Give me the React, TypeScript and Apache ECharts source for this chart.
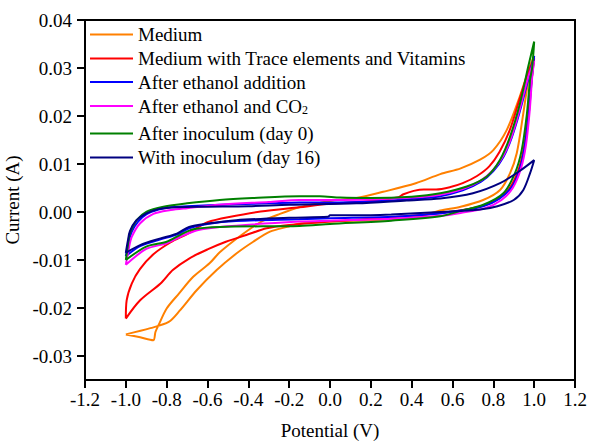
import React, { useEffect, useRef } from "react";
import * as echarts from "echarts";

const seriesNames = [
  "Medium",
  "Medium with Trace elements and Vitamins",
  "After ethanol addition",
  "After ethanol and CO2",
  "After inoculum (day 0)",
  "With inoculum (day 16)",
];
const seriesColors = ["#FF8000", "#FF0000", "#0000FF", "#FF00FF", "#008000", "#000080"];
const xTicks = [-1.2, -1.0, -0.8, -0.6, -0.4, -0.2, 0.0, 0.2, 0.4, 0.6, 0.8, 1.0, 1.2];
const yTicks = [-0.03, -0.02, -0.01, 0.0, 0.01, 0.02, 0.03, 0.04];

// [potential (V), current (A)]
const medium: number[][] = [
  [-1.0, -0.0255], [-0.93, -0.0261], [-0.866, -0.0267], [-0.855, -0.025], [-0.84, -0.0236],
  [-0.8, -0.0201], [-0.74, -0.017], [-0.67, -0.0135], [-0.59, -0.0107], [-0.54, -0.0084],
  [-0.44, -0.005], [-0.34, -0.0021], [-0.245, -0.0004], [-0.15, 0.001], [-0.05, 0.0019],
  [0.0, 0.0023], [0.13, 0.0029], [0.26, 0.0042], [0.42, 0.006], [0.54, 0.0079],
  [0.64, 0.0091], [0.735, 0.0109], [0.8, 0.0129], [0.866, 0.0171], [0.93, 0.0241],
  [0.98, 0.0305], [1.0, 0.0325],
  [0.98, 0.0297], [0.947, 0.0206], [0.915, 0.0123], [0.882, 0.0081], [0.833, 0.0046],
  [0.75, 0.0025], [0.64, 0.0011], [0.54, 0.0003], [0.41, -0.0012], [0.2, -0.0017],
  [0.0, -0.002], [-0.147, -0.0024], [-0.21, -0.0031], [-0.294, -0.0041], [-0.376, -0.0062],
  [-0.457, -0.0086], [-0.555, -0.0121], [-0.653, -0.0163], [-0.735, -0.0205], [-0.79, -0.0229],
  [-0.88, -0.0242], [-1.0, -0.0255],
];
const traceVitamins: number[][] = [
  [-1.0, -0.0222], [-0.996, -0.0184], [-0.971, -0.0149], [-0.931, -0.0119], [-0.865, -0.0088],
  [-0.78, -0.0063], [-0.7, -0.0046], [-0.64, -0.003], [-0.6, -0.0021], [-0.5, -0.0011],
  [-0.34, 0.0001], [-0.15, 0.001], [0.0, 0.0017], [0.2, 0.0023], [0.33, 0.003],
  [0.36, 0.0037], [0.41, 0.0044], [0.46, 0.0047], [0.52, 0.0047], [0.59, 0.0052],
  [0.65, 0.006], [0.72, 0.0075], [0.78, 0.0095], [0.83, 0.0125], [0.88, 0.017],
  [0.93, 0.0237], [0.97, 0.029], [1.0, 0.032],
  [0.985, 0.0265], [0.97, 0.02], [0.95, 0.0135], [0.925, 0.009], [0.88, 0.005],
  [0.82, 0.0026], [0.74, 0.0012], [0.6, 0.0001], [0.4, -0.0008], [0.2, -0.0014],
  [0.0, -0.002], [-0.2, -0.0027], [-0.31, -0.0034], [-0.41, -0.0048], [-0.51, -0.0062],
  [-0.6, -0.0078], [-0.69, -0.0097], [-0.77, -0.0121], [-0.83, -0.0149], [-0.93, -0.0184],
  [-1.0, -0.0222],
];
const ethanolAddition: number[][] = [
  [-1.0, -0.0092], [-0.985, -0.006], [-0.97, -0.004], [-0.94, -0.002], [-0.9, -0.0005],
  [-0.84, 0.0005], [-0.78, 0.001], [-0.7, 0.0012], [-0.54, 0.0015], [-0.3, 0.0018],
  [-0.15, 0.002], [0.0, 0.002], [0.2, 0.0022], [0.4, 0.0027], [0.54, 0.0033],
  [0.65, 0.0045], [0.74, 0.0063], [0.8, 0.0085], [0.85, 0.0115], [0.89, 0.0155],
  [0.93, 0.021], [0.97, 0.0275], [1.0, 0.0325],
  [0.99, 0.0285], [0.975, 0.021], [0.955, 0.014], [0.93, 0.009], [0.89, 0.0052],
  [0.83, 0.0028], [0.75, 0.0012], [0.64, 0.0003], [0.54, -0.0003], [0.3, -0.001],
  [0.0, -0.0013], [-0.15, -0.0015], [-0.46, -0.0019], [-0.6, -0.0025], [-0.69, -0.0034],
  [-0.75, -0.0047], [-0.83, -0.0057], [-0.93, -0.0071], [-1.0, -0.0092],
];
const ethanolCO2: number[][] = [
  [-1.0, -0.011], [-0.985, -0.0075], [-0.971, -0.0052], [-0.931, -0.0024], [-0.865, -0.0004],
  [-0.78, 0.0004], [-0.7, 0.0008], [-0.54, 0.0015], [-0.3, 0.0021], [-0.15, 0.0025],
  [0.0, 0.0025], [0.2, 0.0026], [0.4, 0.003], [0.54, 0.0036], [0.65, 0.0048],
  [0.74, 0.0066], [0.8, 0.0088], [0.85, 0.0118], [0.89, 0.0158], [0.93, 0.0215],
  [0.97, 0.028], [1.0, 0.0315],
  [0.99, 0.028], [0.978, 0.021], [0.96, 0.014], [0.935, 0.009], [0.895, 0.005],
  [0.84, 0.0025], [0.76, 0.0008], [0.64, -0.0002], [0.54, -0.0008], [0.3, -0.0014],
  [0.0, -0.0018], [-0.15, -0.002], [-0.54, -0.0031], [-0.65, -0.0038], [-0.735, -0.0052],
  [-0.8, -0.0065], [-0.9, -0.0077], [-1.0, -0.011],
];
const inoculumDay0: number[][] = [
  [-1.0, -0.01], [-0.99, -0.007], [-0.98, -0.0044], [-0.947, -0.0017], [-0.898, 0.0001],
  [-0.816, 0.0011], [-0.7, 0.0018], [-0.54, 0.0025], [-0.38, 0.0029], [-0.15, 0.0033],
  [-0.05, 0.0033], [0.05, 0.003], [0.2, 0.0029], [0.4, 0.0032], [0.54, 0.0039],
  [0.67, 0.0053], [0.768, 0.0074], [0.833, 0.0109], [0.882, 0.0157], [0.931, 0.0227],
  [0.971, 0.0303], [1.0, 0.0355],
  [0.99, 0.03], [0.98, 0.0276], [0.963, 0.0199], [0.939, 0.0129], [0.906, 0.0081],
  [0.849, 0.0039], [0.751, 0.0015], [0.637, 0.0002], [0.54, -0.0009], [0.3, -0.0018],
  [0.0, -0.0025], [-0.15, -0.0029], [-0.54, -0.0031], [-0.67, -0.0036], [-0.735, -0.0048],
  [-0.8, -0.0062], [-0.9, -0.0072], [-1.0, -0.01],
];
const inoculumDay16: number[][] = [
  [-1.0, -0.0085], [-0.99, -0.006], [-0.98, -0.004], [-0.95, -0.0018], [-0.9, -0.0003],
  [-0.84, 0.0006], [-0.75, 0.001], [-0.6, 0.0011], [-0.4, 0.0012], [-0.2, 0.0015],
  [0.13, 0.0018], [0.376, 0.0024], [0.54, 0.0028], [0.7, 0.0039], [0.833, 0.006],
  [0.931, 0.0086], [1.0, 0.0108],
  [0.98, 0.0081], [0.947, 0.0046], [0.9, 0.0025], [0.82, 0.0012], [0.735, 0.0005],
  [0.54, 0.0], [0.3, -0.0005], [0.13, -0.0007], [0.0, -0.0007], [-0.01, -0.001],
  [-0.2, -0.0012], [-0.46, -0.0017], [-0.6, -0.0024], [-0.69, -0.0031], [-0.75, -0.0045],
  [-0.83, -0.0055], [-0.93, -0.0069], [-1.0, -0.0085],
];

const seriesData = [medium, traceVitamins, ethanolAddition, ethanolCO2, inoculumDay0, inoculumDay16];

const FONT = "'Liberation Serif', 'Times New Roman', serif";

export default function App() {
  const ref = useRef<HTMLDivElement>(null);
  useEffect(() => {
    if (!ref.current) return;
    const chart = echarts.init(ref.current, null, { renderer: "svg" });
    const legendTops = [24.5, 48.5, 72, 96, 123.5, 147.5];
    const fmt = (v: number, d: number) => (Math.abs(v) < 1e-9 ? (0).toFixed(d) : v.toFixed(d));
    chart.setOption({
      animation: false,
      textStyle: { fontFamily: FONT, color: "#000" },
      grid: {
        left: 85, right: 14, top: 20, bottom: 62,
        containLabel: false,
        outerBoundsMode: "none",
        show: true, borderColor: "#000", borderWidth: 2, backgroundColor: "transparent",
      },
      legend: seriesNames.map((n, i) => ({
        data: [n],
        left: 89,
        top: legendTops[i],
        padding: 0,
        itemWidth: 43,
        itemHeight: 20,
        itemGap: 0,
        selectedMode: false,
        itemStyle: { opacity: 0, borderWidth: 0 },
        lineStyle: { width: 2, opacity: 1 },
        formatter: i === 3 ? "After ethanol and CO{sub|2}" : "{name}",
        textStyle: {
          fontFamily: FONT, fontSize: 19, color: "#000", lineHeight: 20,
          rich: { sub: { fontFamily: FONT, fontSize: 12, color: "#000", verticalAlign: "bottom", lineHeight: 20 } },
        },
      })),
      xAxis: {
        type: "value",
        min: -1.2, max: 1.2, interval: 0.2,
        name: "Potential (V)", nameLocation: "middle", nameGap: 41,
        nameTextStyle: { fontFamily: FONT, fontSize: 19, color: "#000" },
        axisLine: { show: true, onZero: false, lineStyle: { color: "#000", width: 2 } },
        axisTick: { show: true, inside: false, length: 8, lineStyle: { color: "#000", width: 2 } },
        axisLabel: {
          fontFamily: FONT, fontSize: 19, color: "#000", margin: 10,
          formatter: (v: number) => fmt(v, 1),
          customValues: xTicks,
        },
        splitLine: { show: false },
      },
      yAxis: {
        type: "value",
        min: -0.035, max: 0.04,
        name: "Current (A)", nameLocation: "middle", nameGap: 48,
        nameTextStyle: { fontFamily: FONT, fontSize: 19, color: "#000" },
        axisLine: { show: true, onZero: false, lineStyle: { color: "#000", width: 2 } },
        axisTick: { show: true, inside: false, length: 8, lineStyle: { color: "#000", width: 2 }, customValues: yTicks },
        axisLabel: {
          fontFamily: FONT, fontSize: 19, color: "#000", margin: 13,
          formatter: (v: number) => fmt(v, 2),
          customValues: yTicks,
        },
        splitLine: { show: false },
      },
      series: seriesNames.map((n, i) => ({
        name: n,
        type: "line",
        data: seriesData[i],
        symbol: "none",
        smooth: 0.3,
        color: seriesColors[i],
        lineStyle: { color: seriesColors[i], width: 2 },
      })),
    });
    return () => chart.dispose();
  }, []);
  return (
    <div
      ref={ref}
      style={{ position: "fixed", left: 0, top: 0, width: 589, height: 442, background: "#fff" }}
    />
  );
}
